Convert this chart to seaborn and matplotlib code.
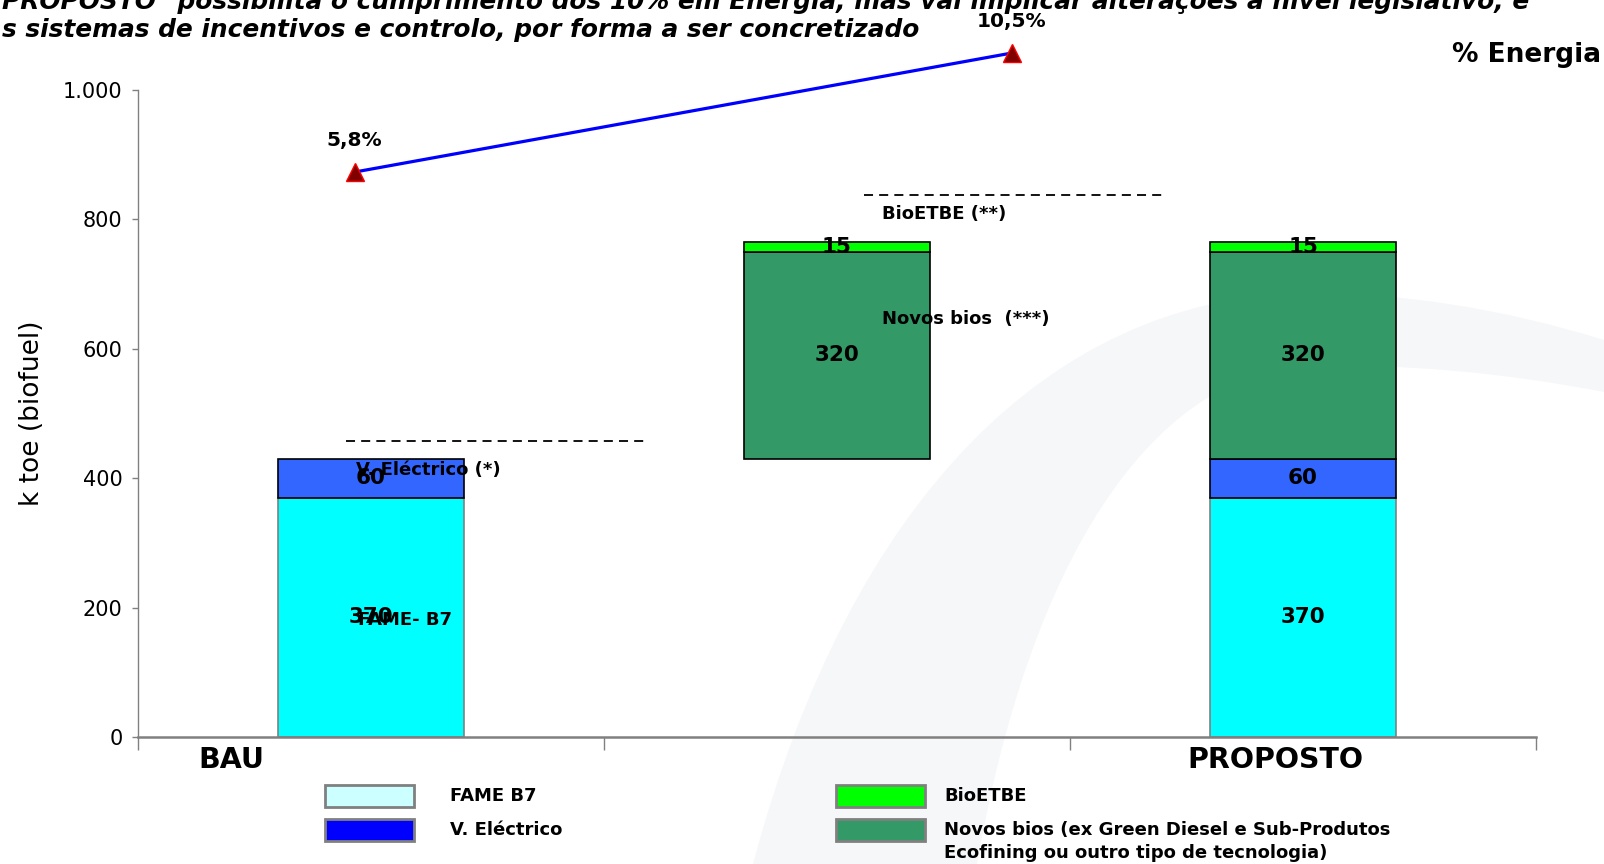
import numpy as np
import pandas as pd
import seaborn as sns
import matplotlib
matplotlib.use("Agg")
import matplotlib.pyplot as plt
from matplotlib.patches import PathPatch, Rectangle
from matplotlib.path import Path
from matplotlib.ticker import FuncFormatter, FixedLocator

# ---- data -----------------------------------------------------------------
cenarios = ["BAU", "Incremento", "PROPOSTO"]
fame_b7 = [370, 0, 370]
v_electrico = [60, 0, 60]
novos_bios = [0, 320, 320]
bioetbe = [0, 15, 15]
pct_energia = [5.8, 10.5]
pct_rotulos = ["5,8%", "10,5%"]

camadas = ["FAME B7", "V. Eléctrico", "Novos bios", "BioETBE"]
valores = [fame_b7, v_electrico, novos_bios, bioetbe]

# ---- styling --------------------------------------------------------------
sns.set_theme(style="white")
plt.rcParams["font.family"] = ["DejaVu Sans"]
plt.rcParams["text.color"] = "black"
plt.rcParams["axes.labelcolor"] = "black"
plt.rcParams["xtick.color"] = "black"
plt.rcParams["ytick.color"] = "black"

W, H = 1604, 864
fig = plt.figure(figsize=(W / 100, H / 100), dpi=100)
fig.patch.set_facecolor("white")


def fx(px):
    return px / W


def fy(py):
    return 1 - py / H


# faint swoosh in the slide background (smooth crescent)
pts = [(753, 864), (850, 500), (1050, 300), (1300, 293),
       (1450, 292), (1604, 340),
       (1604, 392),
       (1450, 362), (1300, 366),
       (1150, 380), (1030, 560), (977, 864),
       (753, 864)]
codes = [Path.MOVETO, Path.CURVE4, Path.CURVE4, Path.CURVE4,
         Path.CURVE3, Path.CURVE3,
         Path.LINETO,
         Path.CURVE3, Path.CURVE3,
         Path.CURVE4, Path.CURVE4, Path.CURVE4,
         Path.CLOSEPOLY]
swoosh = PathPatch(Path([(fx(x), fy(y)) for x, y in pts], codes),
                   facecolor="#F6F7F9", edgecolor="none",
                   transform=fig.transFigure, zorder=-5)
fig.add_artist(swoosh)

ax = fig.add_axes([fx(138), fy(737), fx(1536 - 138), (737 - 90) / H])
ax.patch.set_visible(False)

# long-form table with the floating base of each segment
base_inicial = [0, fame_b7[0] + v_electrico[0], 0]
linhas = []
for i, c in enumerate(cenarios):
    acum = base_inicial[i]
    for nome, serie in zip(camadas, valores):
        linhas.append(dict(cenario=c, camada=nome, valor=serie[i], base=acum))
        acum += serie[i]
df = pd.DataFrame(linhas)

cores = {"FAME B7": "#00FFFF", "V. Eléctrico": "#3366FF",
         "Novos bios": "#339966", "BioETBE": "#00FF00"}
bordas = {"FAME B7": "#808080", "V. Eléctrico": "black",
          "Novos bios": "black", "BioETBE": "black"}

for nome in camadas:
    sub = df[(df["camada"] == nome) & (df["valor"] > 0)]
    sns.barplot(data=sub, x="cenario", y="valor", order=cenarios,
                bottom=sub["base"].to_numpy(), width=0.4,
                color=cores[nome], saturation=1, edgecolor=bordas[nome],
                linewidth=1.2, errorbar=None, ax=ax, zorder=2)
    ax.bar_label(ax.containers[-1], label_type="center", fontsize=15.5,
                 fontweight="bold", color="black", zorder=5)

ax.set_xlim(-0.5, 2.5)
ax.set_ylim(0, 1000)
ax.set_xlabel("")
ax.set_ylabel("k toe (biofuel)", fontsize=19, color="black")
ax.yaxis.set_label_coords(-0.0665, 0.5)

ax.xaxis.set_major_locator(FixedLocator([-0.5, 0.5, 1.5, 2.5]))
ax.set_xticklabels([])
ax.yaxis.set_major_locator(FixedLocator([0, 200, 400, 600, 800, 1000]))
ax.yaxis.set_major_formatter(FuncFormatter(lambda v, p: f"{v:,.0f}".replace(",", ".")))
ax.tick_params(axis="x", which="major", direction="out", length=9, width=1,
               color="#808080", bottom=True)
ax.tick_params(axis="y", which="major", direction="out", length=4.5, width=1,
               color="#808080", left=True, labelsize=15, labelcolor="black", pad=6.5)
for s in ["top", "right"]:
    ax.spines[s].set_visible(False)
ax.spines["left"].set_color("#808080")
ax.spines["left"].set_linewidth(1)
ax.spines["bottom"].set_color("#808080")
ax.spines["bottom"].set_linewidth(1.8)
ax.spines["bottom"].set_zorder(3)

# scenario names under the axis
for xpos, nome in [(-0.30, "BAU"), (1.94, "PROPOSTO")]:
    ax.annotate(nome, (xpos, 0), xytext=(0, -16.5), textcoords="offset points",
                ha="center", va="center", fontsize=20.5, fontweight="bold",
                color="black", annotation_clip=False)

# separators and segment names
tracejado = dict(color="black", lw=1.3, ls=(0, (5.0, 3.4)), zorder=4)
ax.plot([-0.054, 0.594], [457.5, 457.5], **tracejado)
ax.plot([1.058, 1.706], [838, 838], **tracejado)
rotulo = dict(fontsize=13, fontweight="bold", ha="left", va="center",
              color="black", zorder=6)
ax.text(-0.032, 412, "V. Eléctrico (*)", **rotulo)
ax.text(-0.028, 181, "FAME- B7", **rotulo)
ax.text(1.096, 808, "BioETBE (**)", **rotulo)
ax.text(1.096, 646, "Novos bios  (***)", **rotulo)

# energy share line on a hidden secondary axis
ax2 = ax.twinx()
pct_x = [-0.035, 1.375]
sns.lineplot(x=pct_x, y=pct_energia, ax=ax2, color="#0000FF", lw=2.3,
             marker="^", markersize=13, markerfacecolor="#800000",
             markeredgecolor="#FF0000", markeredgewidth=1, clip_on=False, zorder=5)
ax2.set_ylim(-16.51, 9.04)
ax2.set_xlim(-0.5, 2.5)
ax2.set_axis_off()
for xp, v, t in zip(pct_x, pct_energia, pct_rotulos):
    ax2.annotate(t, (xp, v), xytext=(0, 22.5), textcoords="offset points",
                 ha="center", va="center", fontsize=14.5, fontweight="bold",
                 color="black", annotation_clip=False)

fig.text(fx(1601), fy(55), "% Energia", ha="right", va="center",
         fontsize=19, fontweight="bold", color="black")

# headline (partly outside the frame)
titulo = dict(ha="left", va="baseline", fontsize=17.9, fontweight="bold",
              style="italic", color="black")
fig.text(fx(2), fy(9.5), 'PROPOSTO" possibilita o cumprimento dos 10% em Energia, '
         'mas vai implicar alterações a nível legislativo, e', **titulo)
fig.text(fx(2), fy(37), "s sistemas de incentivos e controlo, por forma a ser concretizado",
         **titulo)

# legend
legenda = [("FAME B7", "#CCFFFF", 325, 785), ("V. Eléctrico", "#0000FF", 325, 819),
           ("BioETBE", "#00FF00", 836, 785),
           ("Novos bios (ex Green Diesel e Sub-Produtos", "#339966", 836, 819)]
for texto, cor, x0, y0 in legenda:
    fig.add_artist(Rectangle((fx(x0), fy(y0 + 22)), fx(89), 22 / H, facecolor=cor,
                             edgecolor="#808080", linewidth=2, transform=fig.transFigure))
    fig.text(fx(x0 + 125 if x0 < 500 else x0 + 108), fy(y0 + 11), texto, ha="left",
             va="center", fontsize=13, fontweight="bold", color="black")
fig.text(fx(944), fy(853), "Ecofining ou outro tipo de tecnologia)", ha="left",
         va="center", fontsize=13, fontweight="bold", color="black")

fig.savefig("out.png", dpi=100, facecolor="white")
